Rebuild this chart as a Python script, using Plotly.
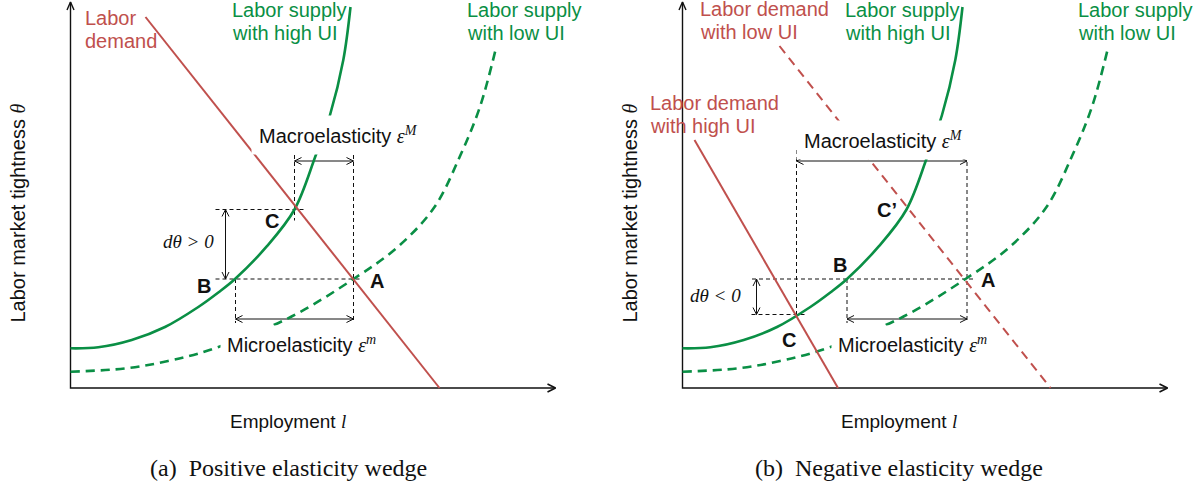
import plotly.graph_objects as go

RED = "#C0504D"
GREEN = "#0A8F45"
BLACK = "#111111"
SANS = "Liberation Sans, Arial, sans-serif"
SERIF = "Liberation Serif, Times New Roman, serif"

# ---------------- data (panel-relative units: origin at axes corner) ----------------
# Labor supply curves (same shape in both panels)
supply_high_x = [0, 27.8, 61.2, 94.5, 127.8, 147.8, 164.5, 196, 224, 245, 259.5, 272.8, 280]
supply_high_y = [39.7, 40.7, 48, 61, 81, 95.5, 109, 141.3, 178.5, 232, 273, 328, 381]
supply_low_x = [0, 56, 97.5, 137.5, 217.5, 283, 327.5, 364, 390, 409.5, 425]
supply_low_y = [16.3, 19.7, 27, 37.5, 69.7, 109, 141.3, 181, 233, 281.3, 338]

# Labor demand lines
demand_a_x = [75, 369]
demand_a_y = [371, 0]
demand_b_high_x = [12, 155.5]
demand_b_high_y = [248, 0]
demand_b_low_x = [97, 368]
demand_b_low_y = [342, 0]

# Equilibrium points
pts_a = {"A": (283, 109), "B": (165, 109), "C": (224, 178.5)}
pts_b = {"A": (284.5, 109), "B": (164.5, 109), "C": (114, 73.5), "C'": (225.5, 180)}

# Guide levels
macro_arrow_y = 227
micro_arrow_y = 69
guide_top = 233
guide_bottom = 65

AXIS_X_END = 485
AXIS_Y_END = 386

fig = go.Figure()


def ref(panel):
    return ("x", "y") if panel == "a" else ("x2", "y2")


def line(xs, ys, panel, color=BLACK, width=1.0, dash="solid", shape="linear"):
    xr, yr = ref(panel)
    fig.add_trace(go.Scatter(
        x=xs, y=ys, mode="lines", xaxis=xr, yaxis=yr,
        line=dict(color=color, width=width, dash=dash, shape=shape, smoothing=1.0),
        hoverinfo="skip", showlegend=False, cliponaxis=False))


def head(tip, direction, panel, length=7.0, half=3.5, width=1.0):
    dx, dy = direction
    n = (dx * dx + dy * dy) ** 0.5
    dx, dy = dx / n, dy / n
    bx, by = tip[0] - length * dx, tip[1] - length * dy
    px, py = -dy, dx
    line([bx + half * px, tip[0], bx - half * px],
         [by + half * py, tip[1], by - half * py], panel, width=width)


def double_arrow(p0, p1, panel):
    line([p0[0], p1[0]], [p0[1], p1[1]], panel, width=1.0)
    d = (p1[0] - p0[0], p1[1] - p0[1])
    head(p1, d, panel)
    head(p0, (-d[0], -d[1]), panel)


def txt(text, x, y, panel, size=20, color=BLACK, xanchor="center", yanchor="middle",
        family=SANS, bg=None, pad=1, angle=0):
    xr, yr = ref(panel)
    fig.add_annotation(
        text=text, x=x, y=y, xref=xr, yref=yr, showarrow=False,
        xanchor=xanchor, yanchor=yanchor, align="left" if xanchor == "left" else "center",
        font=dict(family=family, size=size, color=color),
        bgcolor=bg if bg else "rgba(0,0,0,0)", borderpad=pad, textangle=angle)


DASH_G = "4px,3px"
eps = lambda s: ("<span style='font-family:Liberation Serif,serif'><i>&#949;</i>"
                 "<sup><i>" + s + "</i></sup></span>")
theta = "<span style='font-family:Liberation Serif,serif'><i>&#952;</i></span>"
ell = "<span style='font-family:Liberation Serif,serif'><i>l</i></span>"

for panel, pts in (("a", pts_a), ("b", pts_b)):
    A, B, C = pts["A"], pts["B"], pts["C"]
    # axes
    line([0, 0, AXIS_X_END], [AXIS_Y_END, 0, 0], panel, width=1.4)
    head((0, AXIS_Y_END), (0, 1), panel, length=8, half=3.5, width=1.4)
    head((AXIS_X_END, 0), (1, 0), panel, length=8, half=4, width=1.6)

    # dashed guides
    line([B[0] - 20 if panel == "a" else B[0] - 95, A[0] + 7 if panel == "a" else A[0] + 8],
         [A[1], A[1]], panel, dash=DASH_G)
    if panel == "a":
        line([C[0] - 79, C[0] + 10], [C[1], C[1]], panel, dash=DASH_G)
        line([C[0], C[0]], [guide_top, C[1] - 11], panel, dash=DASH_G)
        dth = (155, C[1], A[1])
    else:
        line([C[0] - 45, C[0] + 9], [C[1], C[1]], panel, dash=DASH_G)
        line([C[0], C[0]], [guide_top + 5, C[1]], panel, dash=DASH_G)
        dth = (74, A[1], C[1])
    line([A[0], A[0]], [guide_top, guide_bottom], panel, dash=DASH_G)
    line([B[0], B[0]], [B[1], guide_bottom], panel, dash=DASH_G)

    # arrows
    double_arrow((C[0], macro_arrow_y), (A[0], macro_arrow_y), panel)
    double_arrow((B[0], micro_arrow_y), (A[0], micro_arrow_y), panel)
    double_arrow((dth[0], dth[1]), (dth[0], dth[2]), panel)

    # supply curves
    line(supply_low_x, supply_low_y, panel, color=GREEN, width=2.6, dash="9px,6px", shape="spline")
    line(supply_high_x, supply_high_y, panel, color=GREEN, width=2.6, shape="spline")

# demand lines
line(demand_a_x, demand_a_y, "a", color=RED, width=2.0)
line(demand_b_low_x, demand_b_low_y, "b", color=RED, width=2.0, dash="9px,6px")
line(demand_b_high_x, demand_b_high_y, "b", color=RED, width=2.0)

# ---------------- text ----------------
LBL = 20
# panel a
txt("Labor", 12, 370.5, "a", size=LBL, color=RED, xanchor="left")
txt("demand", 12, 347.5, "a", size=LBL, color=RED, xanchor="left")
txt("Labor supply", 159, 378, "a", size=LBL, color=GREEN, xanchor="left")
txt("with high UI", 159, 355, "a", size=LBL, color=GREEN, xanchor="left")
txt("Labor supply", 394, 378, "a", size=LBL, color=GREEN, xanchor="left")
txt("with low UI", 394, 355, "a", size=LBL, color=GREEN, xanchor="left")
txt("Macroelasticity " + eps("M"), 268, 253, "a", bg="white", pad=7)
txt("Microelasticity " + eps("m"), 231, 44, "a", bg="white", pad=6)
txt("<i>d&#952; &gt; 0</i>", 117.5, 147, "a", size=19, family=SERIF)
txt("<b>C</b>", 201.5, 167, "a")
txt("<b>B</b>", 133.3, 102.3, "a")
txt("<b>A</b>", 306.5, 107, "a")
txt("Labor market tightness " + theta, -53, 175, "a", angle=-90)
txt("Employment " + ell, 217, -33.7, "a", size=19)
txt("(a)\u2002Positive elasticity wedge", 218, -80, "a", size=24, family=SERIF)

# panel b
txt("Labor demand", 15, 379.5, "b", size=LBL, color=RED, xanchor="left")
txt("with low UI", 15, 356.5, "b", size=LBL, color=RED, xanchor="left")
txt("Labor supply", 160, 378, "b", size=LBL, color=GREEN, xanchor="left")
txt("with high UI", 160, 355, "b", size=LBL, color=GREEN, xanchor="left")
txt("Labor supply", 393, 378, "b", size=LBL, color=GREEN, xanchor="left")
txt("with low UI", 393, 355, "b", size=LBL, color=GREEN, xanchor="left")
txt("Labor demand", -35, 285, "b", size=LBL, color=RED, xanchor="left")
txt("with high UI", -35, 262.5, "b", size=LBL, color=RED, xanchor="left")
txt("Macroelasticity " + eps("M"), 201.2, 248, "b", bg="white", pad=7)
txt("Microelasticity " + eps("m"), 230, 44, "b", bg="white", pad=6)
txt("<i>d&#952; &lt; 0</i>", 32.5, 93, "b", size=19, family=SERIF)
txt("<b>C</b>", 106.5, 48, "b")
txt("<b>B</b>", 157, 123, "b")
txt("<b>A</b>", 305, 108, "b")
txt("<b>C\u2019</b>", 204, 178, "b")
txt("Labor market tightness " + theta, -53, 175, "b", angle=-90)
txt("Employment " + ell, 216.5, -33.7, "b", size=19)
txt("(b)\u2002Negative elasticity wedge", 216, -80, "b", size=24, family=SERIF)

W, H = 1199, 488
ax_common = dict(visible=False, showgrid=False, zeroline=False, fixedrange=True)
fig.update_layout(
    width=W, height=H, margin=dict(l=0, r=0, t=0, b=0),
    paper_bgcolor="white", plot_bgcolor="white", showlegend=False,
    xaxis=dict(domain=[0, 600 / W], range=[-70.5, 529.5], **ax_common),
    yaxis=dict(domain=[0, 1], range=[-100, 388], **ax_common),
    xaxis2=dict(domain=[600 / W, 1], range=[-82.5, 516.5], **ax_common),
    yaxis2=dict(domain=[0, 1], range=[-100, 388], anchor="x2", **ax_common),
)

fig.write_html("out.html", config={"displayModeBar": False},
               post_script="document.body.style.margin='0px';")
